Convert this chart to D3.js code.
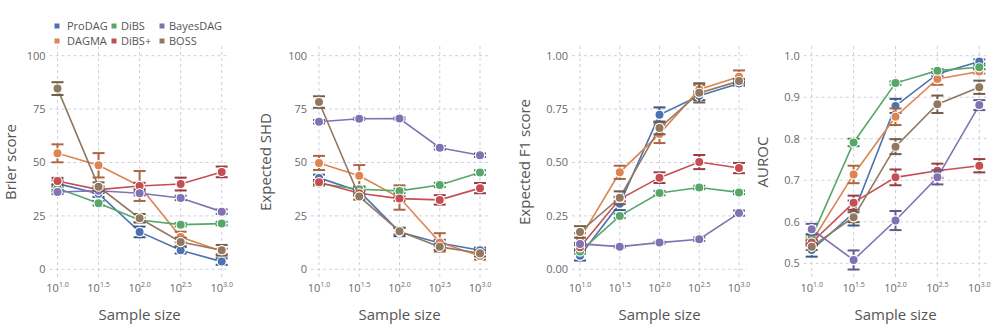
<!DOCTYPE html>
<html>
<head>
<meta charset="utf-8">
<script src="https://cdn.jsdelivr.net/npm/d3@7"></script>
<style>
  body { margin: 0; background: #fff; }
  text { font-family: "Open Sans", sans-serif; }
</style>
</head>
<body>
<svg id="chart" width="996" height="329"></svg>
<script>
// sample sizes as log10 exponents
const sampleExp = [1.0, 1.5, 2.0, 2.5, 3.0]
const methods = ["ProDAG", "DAGMA", "DiBS", "DiBS+", "BayesDAG", "BOSS"]
const colours = ["#4C72B0", "#DD8452", "#55A868", "#C44E52", "#8172B3", "#937860"]

// values per method, in the order of `methods`
const brierMean = [
  [40.1, 35.4, 17.5, 8.9, 3.6],
  [54.3, 48.7, 39.0, 15.1, 8.4],
  [37.9, 30.9, 23.1, 20.9, 21.4],
  [41.3, 37.3, 39.0, 39.9, 45.6],
  [36.2, 36.8, 35.6, 33.4, 27.0],
  [84.6, 38.7, 23.9, 12.8, 8.9]
]
const brierErr = [
  [1.5, 1.5, 2.5, 1.5, 1.5],
  [4.2, 5.7, 7.0, 2.5, 1.2],
  [1.5, 1.0, 1.0, 0.8, 0.8],
  [1.5, 1.5, 1.5, 3.0, 2.5],
  [1.0, 1.0, 1.0, 1.0, 1.0],
  [3.0, 2.0, 2.0, 2.0, 2.5]
]
const shdMean = [
  [42.8, 36.6, 17.5, 12.3, 8.9],
  [49.8, 43.8, 33.6, 12.6, 6.2],
  [40.2, 37.5, 36.7, 39.5, 45.3],
  [40.8, 35.6, 33.1, 32.5, 38.0],
  [69.1, 70.5, 70.6, 56.9, 53.4],
  [78.3, 34.1, 17.8, 10.5, 7.5]
]
const shdErr = [
  [1.5, 2.0, 2.0, 1.5, 1.2],
  [3.3, 5.0, 5.7, 4.3, 1.7],
  [1.0, 1.0, 1.0, 1.0, 1.0],
  [1.0, 1.0, 1.0, 2.2, 2.4],
  [0.8, 0.5, 0.5, 0.8, 0.8],
  [2.7, 1.5, 1.5, 1.5, 1.5]
]
const f1Mean = [
  [0.063, 0.307, 0.723, 0.812, 0.870],
  [0.144, 0.454, 0.634, 0.842, 0.901],
  [0.083, 0.250, 0.357, 0.383, 0.360],
  [0.103, 0.329, 0.429, 0.502, 0.474],
  [0.119, 0.106, 0.125, 0.141, 0.263],
  [0.175, 0.335, 0.662, 0.826, 0.881]
]
const f1Err = [
  [0.022, 0.030, 0.035, 0.020, 0.010],
  [0.025, 0.031, 0.043, 0.020, 0.030],
  [0.010, 0.010, 0.010, 0.008, 0.008],
  [0.010, 0.010, 0.025, 0.033, 0.024],
  [0.005, 0.004, 0.004, 0.008, 0.012],
  [0.027, 0.030, 0.030, 0.045, 0.010]
]
const aurocMean = [
  [0.532, 0.621, 0.879, 0.956, 0.986],
  [0.552, 0.714, 0.853, 0.944, 0.962],
  [0.562, 0.791, 0.934, 0.964, 0.972],
  [0.550, 0.646, 0.707, 0.723, 0.735],
  [0.582, 0.508, 0.603, 0.707, 0.881],
  [0.540, 0.611, 0.781, 0.883, 0.924]
]
const aurocErr = [
  [0.016, 0.030, 0.017, 0.005, 0.005],
  [0.010, 0.021, 0.020, 0.014, 0.005],
  [0.008, 0.009, 0.004, 0.004, 0.004],
  [0.006, 0.017, 0.019, 0.017, 0.016],
  [0.013, 0.023, 0.023, 0.017, 0.012],
  [0.008, 0.012, 0.018, 0.021, 0.016]
]

const brierTicks = [0, 25, 50, 75, 100]
const shdTicks = [0, 25, 50, 75, 100]
const f1Ticks = [0, 0.25, 0.5, 0.75, 1.0]
const aurocTicks = [0.5, 0.6, 0.7, 0.8, 0.9, 1.0]

const panels = [
  {title: "Brier score", mean: brierMean, err: brierErr, ticks: brierTicks, fmt: d3.format("d"),
   x0: 57.5, x1: 221.7, y0: 269.3, y1: 55.7, dom: [0, 100], titleX: 11},
  {title: "Expected SHD", mean: shdMean, err: shdErr, ticks: shdTicks, fmt: d3.format("d"),
   x0: 319, x1: 480, y0: 269.3, y1: 55.7, dom: [0, 100], titleX: 266},
  {title: "Expected F1 score", mean: f1Mean, err: f1Err, ticks: f1Ticks, fmt: d3.format(".2f"),
   x0: 580, x1: 739, y0: 269.3, y1: 55.7, dom: [0, 1], titleX: 525},
  {title: "AUROC", mean: aurocMean, err: aurocErr, ticks: aurocTicks, fmt: d3.format(".1f"),
   x0: 811.7, x1: 979.3, y0: 263.3, y1: 55.7, dom: [0.5, 1], titleX: 763}
]

const plotTop = 46
const plotBottom = 278
const pad = 8
const gridColour = "#cfcfe2"
const textColour = "#555"
const tickColour = "#6a6a6a"

const svg = d3.select("#chart")

panels.forEach(p => {
  const x = d3.scaleLinear().domain([1, 3]).range([p.x0, p.x1])
  const y = d3.scaleLinear().domain(p.dom).range([p.y0, p.y1])
  const left = p.x0 - pad
  const right = p.x1 + pad
  const g = svg.append("g")

  // grid
  g.selectAll(".vgrid")
    .data(sampleExp)
    .join("line")
      .attr("x1", d => x(d)).attr("x2", d => x(d))
      .attr("y1", plotTop).attr("y2", plotBottom)
      .attr("stroke", gridColour).attr("stroke-dasharray", "3,3")
  g.selectAll(".hgrid")
    .data(p.ticks)
    .join("line")
      .attr("x1", left).attr("x2", right)
      .attr("y1", d => y(d)).attr("y2", d => y(d))
      .attr("stroke", gridColour).attr("stroke-dasharray", "3,3")

  // y tick labels
  g.selectAll(".ylab")
    .data(p.ticks)
    .join("text")
      .attr("x", left - 4)
      .attr("y", d => y(d))
      .attr("dy", "0.35em")
      .attr("text-anchor", "end")
      .attr("fill", tickColour)
      .style("font-size", "11px")
      .text(d => p.fmt(d))

  // x tick labels 10^e
  const xl = g.selectAll(".xlab")
    .data(sampleExp)
    .join("text")
      .attr("x", d => x(d))
      .attr("y", 292)
      .attr("text-anchor", "middle")
      .attr("fill", tickColour)
      .style("font-size", "11px")
  xl.append("tspan").text("10")
  xl.append("tspan")
    .attr("dy", -5)
    .style("font-size", "7px")
    .text(d => d.toFixed(1))

  // axis titles
  g.append("text")
    .attr("x", (left + right) / 2)
    .attr("y", 320)
    .attr("text-anchor", "middle")
    .attr("fill", textColour)
    .style("font-size", "15px")
    .text("Sample size")
  g.append("text")
    .attr("transform", `translate(${p.titleX},${(plotTop + plotBottom) / 2}) rotate(-90)`)
    .attr("dy", "0.35em")
    .attr("text-anchor", "middle")
    .attr("fill", textColour)
    .style("font-size", "15px")
    .text(p.title)

  const line = d3.line().x(d => x(d.e)).y(d => y(d.v))

  methods.forEach((m, i) => {
    const pts = sampleExp.map((e, j) => ({e: e, v: p.mean[i][j], s: p.err[i][j]}))
    const c = colours[i]
    const dark = d3.color(c).darker(0.7).formatHex()
    const tg = g.append("g")

    tg.append("path")
      .datum(pts)
      .attr("d", line)
      .attr("fill", "none")
      .attr("stroke", c)
      .attr("stroke-width", 1.6)

    const eb = tg.selectAll(".err")
      .data(pts)
      .join("g")
        .attr("stroke", dark)
        .attr("stroke-width", 2)
    eb.append("line")
      .attr("x1", d => x(d.e)).attr("x2", d => x(d.e))
      .attr("y1", d => y(d.v - d.s)).attr("y2", d => y(d.v + d.s))
    eb.append("line")
      .attr("x1", d => x(d.e) - 6).attr("x2", d => x(d.e) + 6)
      .attr("y1", d => y(d.v - d.s)).attr("y2", d => y(d.v - d.s))
    eb.append("line")
      .attr("x1", d => x(d.e) - 6).attr("x2", d => x(d.e) + 6)
      .attr("y1", d => y(d.v + d.s)).attr("y2", d => y(d.v + d.s))

    tg.selectAll("circle")
      .data(pts)
      .join("circle")
        .attr("cx", d => x(d.e))
        .attr("cy", d => y(d.v))
        .attr("r", 4.6)
        .attr("fill", c)
        .attr("stroke", "#fff")
        .attr("stroke-width", 1.2)
  })
})

// legend, 3 columns x 2 rows
const legendOrder = ["ProDAG", "DiBS", "BayesDAG", "DAGMA", "DiBS+", "BOSS"]
const legendSquareX = [57, 114, 162]
const legendTextX = [67, 121, 169]
const legendY = [26, 41]
const lg = svg.append("g")
  .selectAll("g")
  .data(legendOrder)
  .join("g")
    .attr("transform", (d, k) => `translate(0,${legendY[Math.floor(k / 3)]})`)
lg.append("rect")
  .attr("x", (d, k) => legendSquareX[k % 3] - 2.5)
  .attr("y", -2.5).attr("width", 5).attr("height", 5)
  .attr("fill", d => colours[methods.indexOf(d)])
lg.append("text")
  .attr("x", (d, k) => legendTextX[k % 3])
  .attr("dy", "0.35em")
  .attr("fill", textColour)
  .style("font-size", "11px")
  .text(d => d)
</script>
</body>
</html>
